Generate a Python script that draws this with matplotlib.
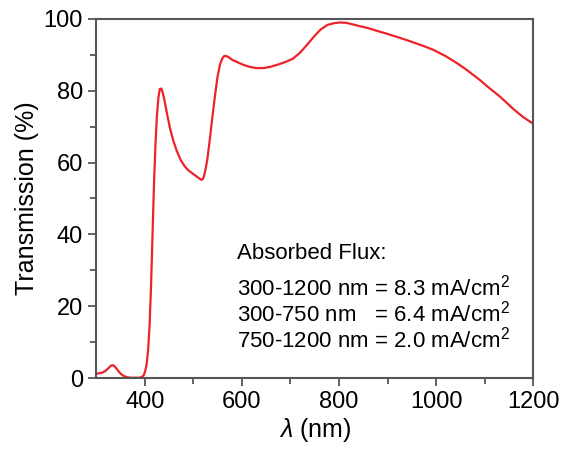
import matplotlib
matplotlib.use('Agg')
import matplotlib.pyplot as plt

# wavelength (nm) and transmission (%)
wl = [300, 305, 312, 318, 324, 329, 333, 337, 342, 347, 352, 358, 365, 372, 380,
      388, 394, 398, 401, 404, 407, 410, 413, 416, 419, 422, 425, 428, 431, 434,
      437, 441, 446, 452, 459, 466, 474, 482, 490, 498, 506, 512, 516, 519, 522,
      525, 529, 534, 540, 545, 550, 555, 559, 563, 567, 573, 580, 590, 603, 617,
      630, 645, 660, 675, 690, 705, 720, 735, 750, 762, 776, 790, 802, 815, 830,
      845, 858, 875, 900, 926, 950, 975, 994, 1020, 1045, 1063, 1090, 1110, 1132,
      1160, 1180, 1200]
trans = [1.2, 1.3, 1.5, 1.9, 2.6, 3.3, 3.6, 3.4, 2.6, 1.7, 1.0, 0.5, 0.2, 0.1, 0.1,
         0.1, 0.3, 0.8, 2.0, 4.0, 8.0, 15, 26, 40, 54, 65, 73, 78, 80.5, 80.6,
         79.5, 77, 73.5, 69.5, 66, 63.2, 60.7, 59, 57.8, 57, 56.2, 55.6, 55.2, 55.3, 56.2,
         58, 61, 66.5, 73.5, 79, 84, 87.3, 88.8, 89.6, 89.7, 89.3, 88.6, 88.0, 87.2, 86.6,
         86.3, 86.3, 86.7, 87.3, 88.0, 88.9, 90.6, 92.9, 95.3, 97.0, 98.3,
         98.8, 99.0, 98.9, 98.4, 97.9, 97.5, 96.8, 95.8, 94.7, 93.6, 92.4, 91.4, 89.6,
         87.5, 85.8, 83.0, 80.7, 78.3, 74.8, 72.6, 70.8]

xticks = [400, 600, 800, 1000, 1200]
yticks = [0, 20, 40, 60, 80, 100]

flux_head = "Absorbed Flux:"
flux_lines = ["300-1200 nm = 8.3 mA/cm$^2$",
              "300-750 nm   = 6.4 mA/cm$^2$",
              "750-1200 nm = 2.0 mA/cm$^2$"]

plt.rcParams['font.family'] = ['Liberation Sans', 'DejaVu Sans']
plt.rcParams['mathtext.fontset'] = 'custom'
plt.rcParams['mathtext.rm'] = 'Liberation Sans'
plt.rcParams['mathtext.it'] = 'Liberation Sans:italic'

fig = plt.figure(figsize=(5.66, 4.49), dpi=100)
ax = fig.add_axes([0.170, 0.158, 0.772, 0.800])

ax.plot(wl, trans, color='#ee2229', lw=1.6, solid_joinstyle='round')

ax.set_xlim(300, 1200)
ax.set_ylim(0, 100)
ax.set_xticks(xticks)
ax.set_yticks(yticks)
ax.set_xticks(range(500, 1200, 200), minor=True)
ax.set_yticks(range(10, 100, 20), minor=True)
ax.tick_params(which='both', direction='out', colors='#555555', labelcolor='black',
               labelsize=17, width=1.3, top=False, right=False)
ax.tick_params(which='major', length=6)
ax.tick_params(which='minor', length=4)
for s in ax.spines.values():
    s.set_color('#555555')
    s.set_linewidth(1.5)

ax.set_ylabel('Transmission (%)', fontsize=18, labelpad=3)
ax.set_xlabel(r'$\mathit{\lambda}$ (nm)', fontsize=18, labelpad=2)

ax.text(590, 37.6, flux_head, fontsize=16, va='top', ha='left')
for i, t in enumerate(flux_lines):
    ax.text(590, 28.8 - i * 7.3, t, fontsize=16, va='top', ha='left')

fig.savefig('out.png', dpi=100)
